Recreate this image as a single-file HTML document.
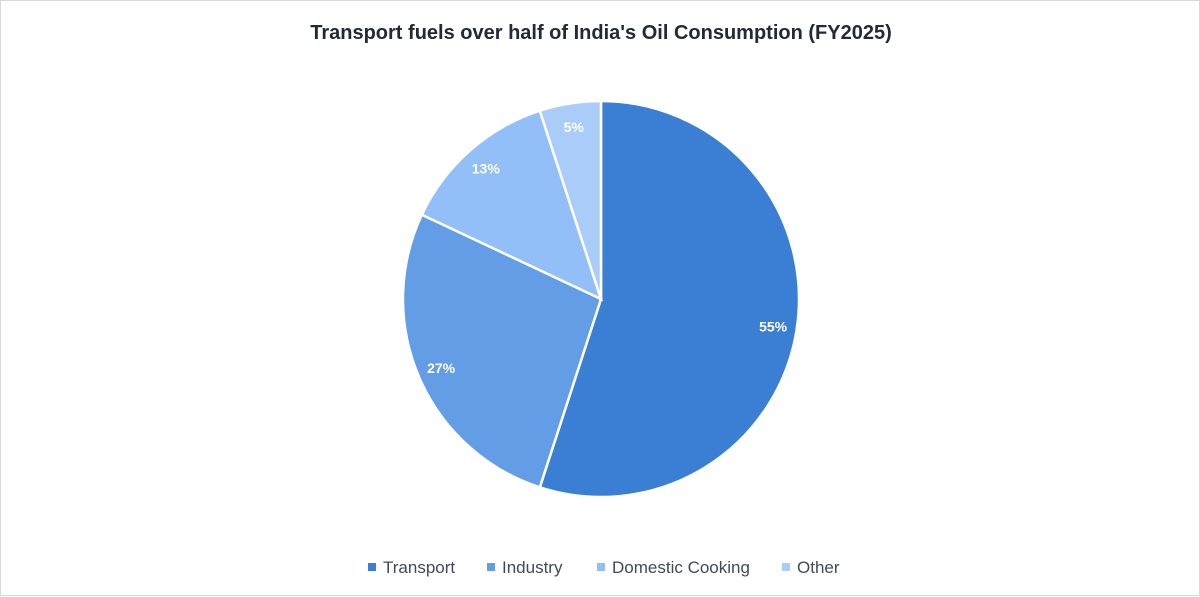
<!DOCTYPE html>
<html><head><meta charset="utf-8"><style>
body{margin:0;background:#fff;}
#wrap{position:relative;width:1198px;height:594px;border:1px solid #d9d9d9;background:#fff;font-family:"Liberation Sans",sans-serif;}
svg{position:absolute;left:0;top:0;}
</style></head><body>
<div id="wrap">
<svg id="chart" width="1200" height="596">
<text x="600" y="38" text-anchor="middle" font-size="20" font-weight="bold" fill="#222a35">Transport fuels over half of India's Oil Consumption (FY2025)</text>
<g id="slices"></g>
<g id="legend"></g>
</svg>
</div>
<script>
const categories=["Transport","Industry","Domestic Cooking","Other"];
const values=[55,27,13,5];
const labels=["55%","27%","13%","5%"];
const colors=["#3a7fd3","#629de6","#93bff8","#a9cdf8"];
const cx=600,cy=298,r=198;
const ns="http://www.w3.org/2000/svg";
const total=values.reduce((a,b)=>a+b,0);
const g=document.getElementById('slices');
let a0=0;
function pt(a,rr){return [cx+rr*Math.sin(a),cy-rr*Math.cos(a)];}
values.forEach((v,i)=>{
 const a1=a0+v/total*2*Math.PI;
 const p0=pt(a0,r),p1=pt(a1,r);
 const large=(a1-a0)>Math.PI?1:0;
 const path=document.createElementNS(ns,'path');
 path.setAttribute('d',`M${cx},${cy} L${p0[0]},${p0[1]} A${r},${r} 0 ${large} 1 ${p1[0]},${p1[1]} Z`);
 path.setAttribute('fill',colors[i]);
 path.setAttribute('stroke','#fff');
 path.setAttribute('stroke-width','2.5');
 
 
 g.appendChild(path);
 const mid=(a0+a1)/2;
 const lp=pt(mid,r*0.88);
 const t=document.createElementNS(ns,'text');
 t.setAttribute('x',lp[0]);t.setAttribute('y',lp[1]+5);
 t.setAttribute('text-anchor','middle');t.setAttribute('font-size','14');
 t.setAttribute('font-weight','bold');t.setAttribute('fill','#fff');
 t.textContent=labels[i];
 
 
 g.appendChild(t);
 a0=a1;
});
const lg=document.getElementById('legend');
const lx=[367,486,596,781];
categories.forEach((c,i)=>{
 const rc=document.createElementNS(ns,'rect');
 rc.setAttribute('x',lx[i]);rc.setAttribute('y',562);rc.setAttribute('width',8);rc.setAttribute('height',8);
 rc.setAttribute('fill',colors[i]);
 
 
 lg.appendChild(rc);
 const t=document.createElementNS(ns,'text');
 t.setAttribute('x',lx[i]+15);t.setAttribute('y',572);
 t.setAttribute('font-size','17');t.setAttribute('fill','#404a5a');
 t.textContent=c;
 
 
 lg.appendChild(t);
});
</script>
</body></html>
